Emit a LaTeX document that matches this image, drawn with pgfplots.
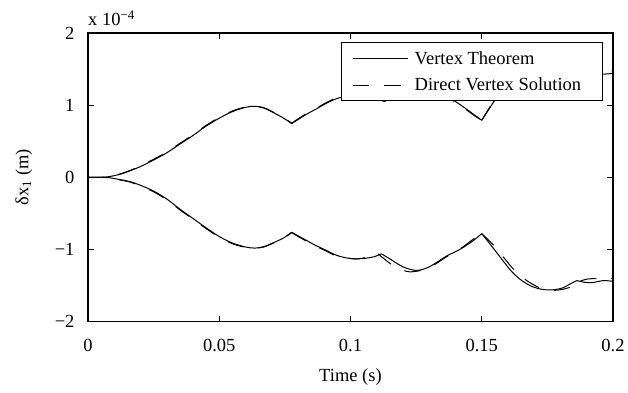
\documentclass[border=0pt]{standalone}
\usepackage{pgfplots}
\pgfplotsset{compat=1.18}
\usepackage{fontspec}
\setmainfont{Liberation Serif}
\begin{document}
\begin{tikzpicture}[font=\fontsize{18.5}{22}\selectfont]
\begin{axis}[
  scale only axis, width=525pt, height=288.7pt,
  xmin=0, xmax=0.2, ymin=-2, ymax=2,
  xtick={0,0.05,0.1,0.15,0.2}, xticklabels={0,0.05,0.1,0.15,0.2},
  ytick={-2,-1,0,1,2}, yticklabels={−2,−1,0,1,2},
  tick align=inside, xtick pos=both, ytick pos=both,
  major tick length=5.7pt,
  axis line style={line width=1.1pt},
  every tick/.style={black, line width=1pt},
  tick label style={font=\fontsize{18.5}{22}\selectfont},
  xticklabel style={yshift=-14.4pt},
  yticklabel style={xshift=-10pt},
  xlabel={Time (s)},
  ylabel={δx\textsubscript{1} (m)},
  xlabel style={at={(axis description cs:0.5,-0.1905)}, anchor=center},
  ylabel style={at={(axis description cs:-0.1219,0.5)}, anchor=center},
  clip=false,
  legend style={at={(1,1)}, anchor=north east, xshift=-9.7pt, yshift=-9.3pt,
    draw=black, fill=white, line width=1pt, inner xsep=10.7pt, inner ysep=5.5pt,
    row sep=6.4pt, column sep=3.6pt, nodes={inner sep=3pt},
    font=\fontsize{18.5}{22}\selectfont},
  legend cell align=left,
  legend image code/.code={\draw[#1, line width=1pt] (0pt,0pt) -- (55pt,0pt);},
  sol/.style={black, line width=1pt, smooth, tension=0.5},
  dsh/.style={black, line width=1pt, smooth, tension=0.5, dash pattern=on 16.5pt off 15pt},
]
% ---- upper, Vertex Theorem
\addplot[sol] coordinates {
(0,0) (0.005,0) (0.008,0.01) (0.012,0.04) (0.016,0.09) (0.020,0.15) (0.025,0.24)
(0.030,0.34) (0.035,0.46) (0.040,0.58) (0.045,0.71) (0.050,0.82) (0.055,0.91)
(0.060,0.97) (0.0635,0.985) (0.067,0.96) (0.071,0.89) (0.0745,0.82) (0.0776,0.745)
};
\addlegendentry{Vertex Theorem}
% ---- upper, Direct Vertex Solution
\addplot[dsh] coordinates {
(0,0) (0.005,0) (0.008,0.01) (0.012,0.045) (0.016,0.095) (0.020,0.16) (0.025,0.25)
(0.030,0.35) (0.035,0.47) (0.040,0.59) (0.045,0.72) (0.050,0.83) (0.055,0.92)
(0.060,0.975) (0.0635,0.985) (0.067,0.965) (0.071,0.895) (0.0745,0.825) (0.0776,0.75)
};
\addlegendentry{Direct Vertex Solution\rule{7.9pt}{0pt}}
\addplot[sol, forget plot] coordinates {
(0.0776,0.745) (0.080,0.80) (0.0835,0.88) (0.0871,0.95) (0.091,1.03) (0.0947,1.09)
(0.100,1.14) (0.104,1.15) (0.108,1.12) (0.1125,1.08)
};
\addplot[sol, forget plot] coordinates {
(0.1125,1.08) (0.116,1.14) (0.120,1.23) (0.125,1.28) (0.130,1.24) (0.1366,1.115)
(0.140,1.05) (0.144,0.95) (0.147,0.87) (0.150,0.79)
};
\addplot[sol, forget plot] coordinates {
(0.150,0.79) (0.1557,1.11) (0.160,1.33) (0.165,1.50) (0.170,1.58) (0.175,1.60)
(0.180,1.57) (0.185,1.50) (0.188,1.46) (0.192,1.45) (0.196,1.43) (0.200,1.44)
};
\addplot[dsh, forget plot] coordinates {
(0.0776,0.75) (0.080,0.81) (0.0835,0.89) (0.0871,0.96) (0.091,1.04) (0.0947,1.10)
(0.100,1.14) (0.104,1.14) (0.108,1.11) (0.113,1.05)
};
\addplot[dsh, forget plot] coordinates {
(0.113,1.05) (0.118,1.17) (0.123,1.30) (0.128,1.28) (0.1366,1.11) (0.140,1.04)
(0.144,0.94) (0.147,0.86) (0.150,0.79)
};
\addplot[dsh, forget plot] coordinates {
(0.150,0.79) (0.155,1.08) (0.160,1.30) (0.165,1.48) (0.170,1.57) (0.175,1.60)
(0.180,1.58) (0.185,1.52) (0.1885,1.47) (0.193,1.46) (0.200,1.46)
};
% ---- lower, Vertex Theorem
\addplot[sol, forget plot] coordinates {
(0,0) (0.005,0) (0.008,-0.005) (0.012,-0.03) (0.016,-0.06) (0.020,-0.11) (0.025,-0.19)
(0.030,-0.30) (0.035,-0.44) (0.040,-0.57) (0.045,-0.70) (0.050,-0.82) (0.055,-0.91)
(0.060,-0.965) (0.0635,-0.98) (0.067,-0.96) (0.071,-0.90) (0.0745,-0.84) (0.0776,-0.76)
};
\addplot[sol, forget plot] coordinates {
(0.0776,-0.76) (0.0805,-0.82) (0.0833,-0.875) (0.0865,-0.94) (0.0895,-0.99) (0.0947,-1.08)
(0.099,-1.12) (0.1023,-1.13) (0.106,-1.12) (0.109,-1.10) (0.1118,-1.06)
};
\addplot[sol, forget plot] coordinates {
(0.1118,-1.06) (0.115,-1.13) (0.120,-1.24) (0.1252,-1.29) (0.130,-1.24) (0.1366,-1.09)
(0.140,-1.03) (0.143,-0.97) (0.147,-0.87) (0.150,-0.78)
};
\addplot[sol, forget plot] coordinates {
(0.150,-0.78) (0.155,-1.01) (0.1608,-1.28) (0.1645,-1.41) (0.1684,-1.50) (0.172,-1.545)
(0.1754,-1.56) (0.178,-1.555) (0.181,-1.53) (0.1835,-1.48) (0.1862,-1.43)
};
\addplot[sol, forget plot] coordinates {
(0.1862,-1.43) (0.1885,-1.45) (0.1912,-1.46) (0.1935,-1.45) (0.1963,-1.43) (0.200,-1.44)
};
% ---- lower, Direct Vertex Solution
\addplot[dsh, forget plot] coordinates {
(0,0) (0.005,0) (0.008,-0.005) (0.012,-0.035) (0.016,-0.065) (0.020,-0.12) (0.025,-0.20)
(0.030,-0.31) (0.035,-0.45) (0.040,-0.58) (0.045,-0.71) (0.050,-0.83) (0.055,-0.92)
(0.060,-0.97) (0.0635,-0.98) (0.067,-0.965) (0.071,-0.905) (0.0745,-0.845) (0.0776,-0.765)
};
\addplot[dsh, forget plot] coordinates {
(0.0776,-0.765) (0.0805,-0.83) (0.0833,-0.885) (0.0865,-0.95) (0.0895,-1.00) (0.0947,-1.09)
(0.099,-1.12) (0.1023,-1.13) (0.106,-1.11) (0.1105,-1.06)
};
\addplot[dsh, forget plot] coordinates {
(0.1105,-1.06) (0.1157,-1.21) (0.1195,-1.28) (0.1227,-1.31) (0.128,-1.28) (0.132,-1.21)
(0.1366,-1.10) (0.140,-1.03) (0.143,-0.96) (0.147,-0.85) (0.150,-0.78)
};
\addplot[dsh, forget plot] coordinates {
(0.150,-0.78) (0.155,-0.96) (0.1608,-1.22) (0.1645,-1.36) (0.1684,-1.46) (0.172,-1.53)
(0.175,-1.56) (0.178,-1.565) (0.181,-1.55) (0.1845,-1.51) (0.1875,-1.44)
};
\addplot[dsh, forget plot] coordinates {
(0.1875,-1.44) (0.190,-1.41) (0.195,-1.40) (0.200,-1.40)
};
\node[anchor=base west, inner sep=0pt, yshift=7pt] at (rel axis cs:0,1) {x 10\textsuperscript{−4}};
\path (rel axis cs:-0.16762,-0.24697) rectangle (rel axis cs:1.02857,1.11431);
\end{axis}
\end{tikzpicture}
\end{document}
